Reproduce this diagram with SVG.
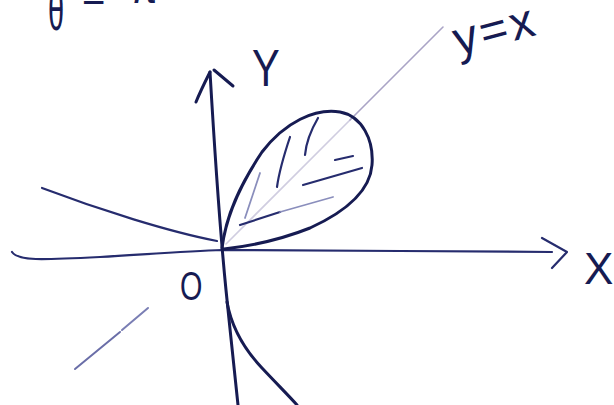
<svg xmlns="http://www.w3.org/2000/svg" width="614" height="405" viewBox="0 0 614 405">
<style>
.ink{fill:none;stroke:#161b52;stroke-width:3;stroke-linecap:round;stroke-linejoin:round}
.ink2{fill:none;stroke:#262c6e;stroke-width:2.2;stroke-linecap:round;stroke-linejoin:round}
.faint{fill:none;stroke:#aaa4c6;stroke-width:1.6;stroke-linecap:round}
.hand{fill:#161b52;font-family:"Liberation Sans","DejaVu Sans",sans-serif}
</style>
<rect width="614" height="405" fill="#ffffff"/>
<g id="title">
<text class="hand" font-size="58" transform="translate(48,30) scale(0.5,1)">θ</text>
<text class="hand" font-size="40" x="82" y="11">=</text>
<text class="hand" font-size="40" x="130" y="3">π</text>
</g>
<g id="line-y-equals-x">
<path class="faint" d="M226,244 L350,120" opacity="0.55"/>
<path class="faint" d="M350,120 L443,27"/>
<path d="M148,308 L122,330" fill="none" stroke="#7a7eb4" stroke-width="2" stroke-linecap="round"/>
<path d="M120,332 L75,369" fill="none" stroke="#6a6ea8" stroke-width="2" stroke-linecap="round"/>
</g>
<g id="axes">
<path class="ink2" d="M12,252 C18,261 40,260 100,257 C150,254 190,251 222,250 L400,251 L552,252"/>
<path class="ink2" d="M542,238 L567,252 L552,268"/>
<path class="ink" d="M210,72 C214,140 220,230 226,290 C230,330 235,375 238,405"/>
<path class="ink" d="M196,102 C200,92 205,82 210,72"/>
<path class="ink" d="M214,70 L233,86"/>
</g>
<g id="folium">
<path class="ink" d="M222,248 C226,215 240,185 262,152 C285,122 315,108 340,112 C362,116 374,140 372,165 C370,192 345,212 310,228 C280,240 250,246 224,249"/>
<path class="ink2" d="M42,188 C100,210 170,232 217,241"/>
<path class="ink" d="M227,302 C232,330 245,350 262,368 C277,384 290,397 297,405"/>
</g>
<g id="hatching">
<path class="ink2" d="M290,137 C284,155 279,172 277,187"/>
<path class="ink2" d="M318,118 C311,130 306,143 305,155"/>
<path class="ink2" d="M240,225 L280,212"/>
<path d="M280,212 L333,197" fill="none" stroke="#8a8ebc" stroke-width="1.8" stroke-linecap="round"/>
<path d="M260,173 L245,218" fill="none" stroke="#8a8ebc" stroke-width="1.8" stroke-linecap="round"/>
<path class="ink2" d="M303,185 L362,168"/>
<path class="ink2" d="M335,160 L353,156"/>
</g>
<g id="labels">
<text class="hand" font-size="52" transform="translate(252,86) scale(0.8,1)">Y</text>
<text class="hand" font-size="48" letter-spacing="3" transform="translate(458,56) rotate(-15)">y=x</text>
<text class="hand" font-size="44" x="584" y="284">X</text>
<text class="hand" font-size="40" transform="translate(180,300) scale(0.72,1)">O</text>
</g>
</svg>
